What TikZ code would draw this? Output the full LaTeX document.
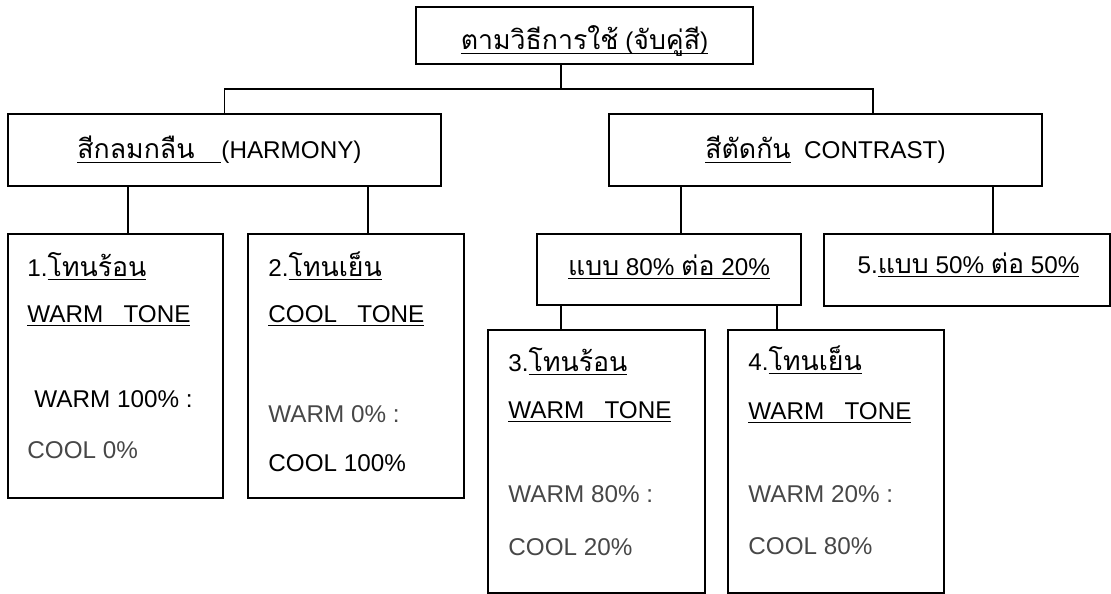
\documentclass[tikz,border=0pt]{standalone}
\usepackage{fontspec}
\setmainfont{Liberation Sans}
\newfontfamily\thaifont[Script=Thai, Scale=1.1]{Loma}
\usetikzlibrary{fit,calc}
\newcommand{\undl}[1]{\setbox0\hbox{#1}\rlap{\rule[-0.17em]{\wd0}{0.06em}}\box0}
\definecolor{litegray}{gray}{0.28}
\tikzset{
  box/.style={draw, line width=1pt, inner sep=0pt, fit={#1}},
  txt/.style={font=\fontsize{13.8}{16}\selectfont, inner sep=0pt, anchor=base west},
  lite/.style={txt, text=litegray},
  link/.style={line width=1pt}
}
\begin{document}
\begin{tikzpicture}[x=0.2mm, y=-0.2mm]
\useasboundingbox (0,0) rectangle (1111,594);
% boxes
\node (top) [box={(416,7) (753,64)}] {};
\node (harmony) [box={(8,114) (441,186)}] {};
\node (contrast) [box={(609,114) (1042,186)}] {};
\node (tone1) [box={(8,234) (223,498)}] {};
\node (tone2) [box={(248,234) (464,498)}] {};
\node (ratio) [box={(537,234) (801,305)}] {};
\node (half) [box={(824,234) (1110,306)}] {};
\node (tone3) [box={(488,330) (705,593)}] {};
\node (tone4) [box={(728,330) (944,593)}] {};

% headings
\node (toptxt) [txt, anchor=base] at ($(top.center)+(0,14.5)$) {\undl{{\thaifont ตามวิธีการใช้} ({\thaifont จับคู่สี})}};
\node (harmtxt) [txt, anchor=base] at ($(harmony.center)+(-5,9)$) {\undl{{\thaifont สีกลมกลืน}\ \ \ \ }(HARMONY)};
\node (contxt) [txt, anchor=base] at ($(contrast.center)+(0,9)$) {\undl{\thaifont สีตัดกัน}\ \ CONTRAST)};
\node (ratiotxt) [txt, anchor=base] at ($(ratio.center)+(0,5.5)$) {\undl{{\thaifont แบบ} 80\% {\thaifont ต่อ} 20\%}};
\node (halftxt) [txt, anchor=base] at ($(half.center)+(1.5,3)$) {5.\undl{{\thaifont แบบ} 50\% {\thaifont ต่อ} 50\%}};

% tone boxes
\node (t1a) [txt] at ($(tone1.north west)+(20,43)$) {1.\undl{\thaifont โทนร้อน}};
\node (t1b) [txt] at ($(tone1.north west)+(20,89)$) {\undl{WARM\ \ \ TONE}};
\node (t1c) [txt] at ($(tone1.north west)+(27,174)$) {WARM 100\% :};
\node (t1d) [lite] at ($(tone1.north west)+(20,225)$) {COOL 0\%};

\node (t2a) [txt] at ($(tone2.north west)+(21,43)$) {2.\undl{\thaifont โทนเย็น}};
\node (t2b) [txt] at ($(tone2.north west)+(21,89)$) {\undl{COOL\ \ \ TONE}};
\node (t2c) [lite] at ($(tone2.north west)+(21,189)$) {WARM 0\% :};
\node (t2d) [txt] at ($(tone2.north west)+(21,238)$) {COOL 100\%};

\node (t3a) [txt] at ($(tone3.north west)+(21,42)$) {3.\undl{\thaifont โทนร้อน}};
\node (t3b) [txt] at ($(tone3.north west)+(21,89)$) {\undl{WARM\ \ \ TONE}};
\node (t3c) [lite] at ($(tone3.north west)+(21,173)$) {WARM 80\% :};
\node (t3d) [lite] at ($(tone3.north west)+(21,226)$) {COOL 20\%};

\node (t4a) [txt] at ($(tone4.north west)+(21,41)$) {4.\undl{\thaifont โทนเย็น}};
\node (t4b) [txt] at ($(tone4.north west)+(21,90)$) {\undl{WARM\ \ \ TONE}};
\node (t4c) [lite] at ($(tone4.north west)+(21,173)$) {WARM 20\% :};
\node (t4d) [lite] at ($(tone4.north west)+(21,225)$) {COOL 80\%};

% connectors
\coordinate (fork) at (561,89);
\draw[link] (top.south -| fork) -- (fork);
\draw[link] (harmony.north) |- (fork) -| ([xshift=9.5mm]contrast.north);
\draw[link] ([xshift=2.5mm]tone1.north) -- ([xshift=2.5mm]tone1.north |- harmony.south);
\draw[link] ([xshift=2.4mm]tone2.north) -- ([xshift=2.4mm]tone2.north |- harmony.south);
\draw[link] ([xshift=2.4mm]ratio.north) -- ([xshift=2.4mm]ratio.north |- contrast.south);
\draw[link] ([xshift=5.2mm]half.north) -- ([xshift=5.2mm]half.north |- contrast.south);
\draw[link] ([xshift=-7.1mm]tone3.north) -- ([xshift=-7.1mm]tone3.north |- ratio.south);
\draw[link] ([xshift=-11.8mm]tone4.north) -- ([xshift=-11.8mm]tone4.north |- ratio.south);
\end{tikzpicture}
\end{document}
